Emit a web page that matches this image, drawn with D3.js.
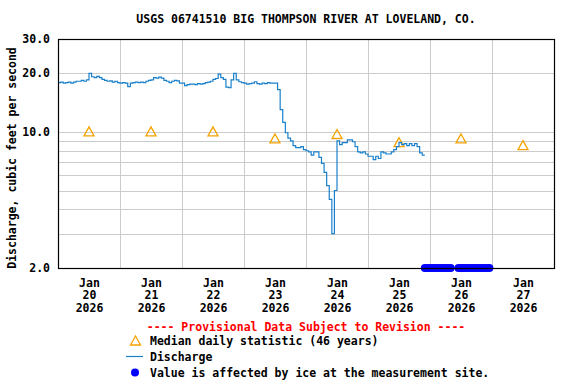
<!DOCTYPE html>
<html>
<head>
<meta charset="utf-8">
<script src="https://cdn.jsdelivr.net/npm/d3@7"></script>
<style>
  body { margin: 0; background: #fff; }
  svg { display: block; }
  text { font-family: "DejaVu Sans Mono", "Liberation Mono", monospace; font-weight: bold; }
</style>
</head>
<body>
<svg id="chart" width="576" height="384"></svg>
<script>
// hourly discharge (cfs), one array per day, starting at 00:00
var jan20 = [17.9,18.0,17.8,17.9,18.0,17.8,18.0,18.2,18.2,18.4,18.2,18.5,20.0,19.2,19.0,19.3,19.0,18.6,18.4,18.2,18.3,18.0,18.2,17.9];
var jan21 = [17.8,17.9,17.8,17.1,17.8,17.9,18.0,17.9,18.0,17.9,18.2,18.4,18.5,19.0,18.9,19.1,18.9,18.4,18.2,17.9,18.2,18.4,18.3,17.8];
var jan22 = [17.8,17.3,17.5,17.6,17.6,17.5,17.7,17.6,17.7,17.9,18.0,18.2,18.6,18.8,19.8,19.0,18.6,17.0,16.9,18.5,20.0,18.5,18.1,17.9];
var jan23 = [17.8,17.6,17.7,17.8,18.1,17.7,17.6,17.8,17.7,17.9,17.8,17.8,17.8,16.5,13.0,11.2,9.9,9.3,9.0,8.5,8.3,8.3,8.4,8.1];
var jan24 = [8.0,7.9,7.6,7.9,7.9,7.4,6.9,6.2,5.3,4.5,3.0,5.0,9.0,8.6,8.8,8.8,9.1,9.1,8.9,8.4,7.9,7.8,7.9,7.7];
var jan25 = [7.5,7.5,7.2,7.5,7.3,7.9,7.8,7.7,7.7,7.9,8.1,8.4,8.8,8.6,8.7,8.5,8.7,8.5,8.7,8.4,7.8,7.6,7.6];
var dischargeDays = [jan20, jan21, jan22, jan23, jan24, jan25];

// median daily statistic, plotted at noon
var medianDays = [20, 21, 22, 23, 24, 25, 26, 27];
var medianValues = [10.0, 10.0, 10.0, 9.2, 9.7, 8.8, 9.2, 8.5];

// ice-affected values: hours after Jan 25 00:00
var iceHours = [22,23,24,25,26,27,28,29,30,31,32,35,36,37,38,39,40,41,42,43,44,45,46,47];

var labelDays = [20, 21, 22, 23, 24, 25, 26, 27];
var yTicks = [2, 10, 20, 30];
var yGrid = [3, 4, 5, 6, 7, 8, 9, 10, 20];

var margin = {left: 58, top: 39, right: 554, bottom: 268};
var blue = "#1a80cc", orange = "#f5a300";

var svg = d3.select("#chart");

var x = d3.scaleTime()
    .domain([new Date(2026, 0, 20), new Date(2026, 0, 28)])
    .range([margin.left, margin.right]);
var y = d3.scaleLog()
    .domain([2, 30])
    .range([margin.bottom, margin.top]);

var discharge = [];
dischargeDays.forEach(function(day, i){
    day.forEach(function(v, h){
        discharge.push({t: new Date(2026, 0, 20 + i, h), v: v});
    });
});

// grid
var grid = svg.append("g").attr("stroke", "#cccccc").attr("stroke-width", 1);
grid.selectAll("line.h")
    .data(yGrid)
    .enter().append("line")
    .attr("x1", margin.left).attr("x2", margin.right)
    .attr("y1", function(d){ return Math.round(y(d)) + 0.5; })
    .attr("y2", function(d){ return Math.round(y(d)) + 0.5; });
grid.selectAll("line.v")
    .data(d3.range(21, 28))
    .enter().append("line")
    .attr("y1", margin.top).attr("y2", margin.bottom)
    .attr("x1", function(d){ return Math.round(x(new Date(2026, 0, d))) + 0.5; })
    .attr("x2", function(d){ return Math.round(x(new Date(2026, 0, d))) + 0.5; });

// median triangles
svg.append("g").selectAll("path")
    .data(medianDays)
    .enter().append("path")
    .attr("d", function(d, i){
        var cx = x(new Date(2026, 0, d, 12)), cy = y(medianValues[i]);
        return "M" + cx + "," + (cy - 5) + "L" + (cx + 5) + "," + (cy + 4) + "L" + (cx - 5) + "," + (cy + 4) + "Z";
    })
    .attr("fill", "none")
    .attr("stroke", orange)
    .attr("stroke-width", 1.3);

// discharge line
var line = d3.line()
    .x(function(d){ return x(d.t); })
    .y(function(d){ return y(d.v); })
    .curve(d3.curveStepAfter);
svg.append("path")
    .datum(discharge)
    .attr("d", line)
    .attr("fill", "none")
    .attr("stroke", blue)
    .attr("stroke-width", 1.2);

// ice markers
svg.append("g").selectAll("circle")
    .data(iceHours)
    .enter().append("circle")
    .attr("cx", function(d){ return x(new Date(2026, 0, 25, d)); })
    .attr("cy", y(2))
    .attr("r", 4)
    .attr("fill", "#0000ff");

// frame
svg.append("rect")
    .attr("x", margin.left + 0.5).attr("y", margin.top + 0.5)
    .attr("width", margin.right - margin.left).attr("height", margin.bottom - margin.top)
    .attr("fill", "none").attr("stroke", "#000").attr("stroke-width", 1.2);

// y axis labels
var yAxis = svg.append("g")
    .attr("transform", "translate(" + margin.left + ",0)")
    .call(d3.axisLeft(y).tickValues(yTicks).tickFormat(d3.format(".1f")).tickSize(0).tickPadding(8));
yAxis.select(".domain").remove();
yAxis.selectAll("text").attr("font-size", "11.5px").attr("fill", "#000")
    .style("font-family", "DejaVu Sans Mono").style("font-weight", "bold");

// x axis labels (three lines)
var xAxis = svg.append("g")
    .attr("transform", "translate(0," + margin.bottom + ")")
    .call(d3.axisBottom(x).tickValues(labelDays.map(function(d){ return new Date(2026, 0, d, 12); })).tickSize(0));
xAxis.select(".domain").remove();
xAxis.selectAll("text").each(function(d){
    var t = d3.select(this).text(null).attr("y", 0).attr("dy", null)
        .attr("font-size", "11.5px").attr("fill", "#000")
        .style("font-family", "DejaVu Sans Mono").style("font-weight", "bold");
    ["Jan", d.getDate(), "2026"].forEach(function(s, i){
        t.append("tspan").attr("x", 0).attr("y", 18.5 + i * 12.7).text(s);
    });
});

// title
svg.append("text")
    .attr("x", 306).attr("y", 23)
    .attr("text-anchor", "middle")
    .attr("font-size", "11.5px")
    .text("USGS 06741510 BIG THOMPSON RIVER AT LOVELAND, CO.");

// y title
svg.append("text")
    .attr("transform", "translate(16,158) rotate(-90)")
    .attr("text-anchor", "middle")
    .attr("font-size", "11.5px")
    .text("Discharge, cubic feet per second");

// legend
svg.append("text")
    .attr("x", 306).attr("y", 331)
    .attr("text-anchor", "middle")
    .attr("font-size", "11.5px")
    .attr("fill", "#ff0000")
    .text("---- Provisional Data Subject to Revision ----");

var legend = svg.append("g").attr("font-size", "11.5px");
legend.append("path")
    .attr("d", "M135.5,336L140.5,345L130.5,345Z")
    .attr("fill", "none").attr("stroke", orange).attr("stroke-width", 1.3);
legend.append("text").attr("x", 150).attr("y", 344.5).text("Median daily statistic (46 years)");
legend.append("line")
    .attr("x1", 126).attr("x2", 143).attr("y1", 356.5).attr("y2", 356.5)
    .attr("stroke", blue).attr("stroke-width", 1.2);
legend.append("text").attr("x", 150).attr("y", 360.5).text("Discharge");
legend.append("circle").attr("cx", 135).attr("cy", 372.5).attr("r", 4).attr("fill", "#0000ff");
legend.append("text").attr("x", 150).attr("y", 376.5).text("Value is affected by ice at the measurement site.");
</script>
</body>
</html>
